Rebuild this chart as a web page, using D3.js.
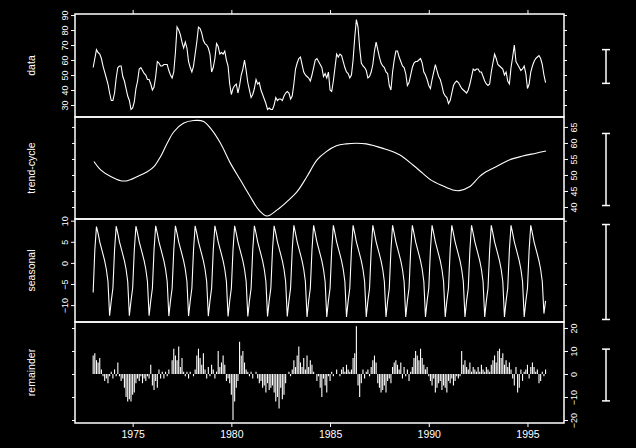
<!DOCTYPE html>
<html><head><meta charset="utf-8">
<script src="https://cdn.jsdelivr.net/npm/d3@7"></script>
<style>html,body{margin:0;padding:0;background:#000;}svg{display:block;}</style>
</head><body>
<svg id="chart" width="636" height="448"></svg>
<script>
// ---- data (monthly, Jan 1973 .. Dec 1995) ----
const startYear = 1973;
const dataValues = [
 55,61,67,65,64,61,56,52,48,44,38,33,
 33,38,48,55,56,56,49,46,41,36,33,27,
 28,32,41,46,54,55,53,51,50,47,47,44,
 40,42,49,59,58,56,56,57,57,57,53,50,
 48,52,65,82,80,77,72,68,72,68,59,55,
 52,56,64,72,82,81,78,73,71,70,68,64,
 52,55,61,71,69,64,65,64,66,60,56,44,
 37,41,43,44,38,43,50,54,60,53,45,40,
 35,37,41,47,44,45,40,37,34,31,27,28,
 27,27,30,35,33,34,34,33,36,38,39,38,
 34,36,44,54,58,61,62,57,52,50,49,48,
 46,50,55,60,61,59,57,55,49,51,48,52,
 40,39,46,55,64,62,64,63,59,55,52,51,
 48,50,60,75,87,82,68,58,56,55,53,48,
 49,52,57,66,72,67,62,58,56,55,52,51,
 43,40,52,60,66,66,62,59,56,55,51,43,
 45,50,55,58,59,59,60,61,58,52,50,47,
 43,41,47,52,57,53,49,47,43,38,36,35,
 31,33,38,43,45,46,45,43,41,40,39,38,
 40,44,49,54,53,54,54,52,52,49,46,44,
 43,44,52,58,64,61,57,56,55,54,50,52,
 46,44,55,62,70,59,57,55,53,54,56,51,
 41,44,52,56,59,61,62,63,61,57,50,45
];
const trendYears = [1973.04,1973.38,1973.89,1974.39,1974.73,1975.24,1975.74,1976.08,1976.41,1976.75,1977.09,1977.59,1978.10,1978.60,1978.94,1979.45,1979.95,1980.46,1980.96,1981.39,1981.81,1982.32,1982.82,1983.33,1983.83,1984.34,1984.81,1985.32,1985.82,1986.33,1986.83,1987.68,1988.52,1989.20,1989.70,1990.12,1990.71,1991.22,1991.55,1992.06,1992.57,1992.90,1993.41,1994.08,1994.76,1995.43,1995.94];
const trendValues = [54.2,51.6,49.5,48.2,48.2,49.5,51.0,52.6,55.7,59.9,63.5,66.2,67.0,66.7,64.6,59.9,53.7,48.4,43.2,39.1,37.2,39.1,41.7,44.8,49.5,54.7,57.3,59.1,59.7,59.9,59.7,58.3,56.3,53.1,50.5,48.4,46.6,45.3,45.1,46.3,49.5,51.0,52.6,54.7,55.9,56.8,57.5];
const seasonalValues = [
 -7,3,8.6,7,5,3.5,2,0.5,-1.5,-4.4,-12.5,-9,
 -6,3,8.7,7,5,3.5,2,0.5,-1.5,-4.4,-12.5,-9,
 -6,3,8.7,7,5,3.5,2,0.5,-1.5,-4.4,-12.5,-9,
 -6,3,8.8,7,5,3.5,2,0.5,-1.5,-4.4,-12.6,-9,
 -6,3,8.8,7,5,3.5,2,0.5,-1.5,-4.4,-12.6,-9,
 -6,3,8.8,7,5,3.5,2,0.5,-1.5,-4.4,-12.6,-9,
 -6,3,8.8,7,5,3.5,2,0.5,-1.5,-4.4,-12.7,-9,
 -6,3,8.8,7,5,3.5,2,0.5,-1.5,-4.4,-12.7,-9,
 -6,3,8.8,7,5,3.5,2,0.5,-1.5,-4.4,-12.7,-9,
 -6,3,8.8,7,5,3.5,2,0.5,-1.5,-4.4,-12.7,-9,
 -6,3,8.9,7,5,3.5,2,0.5,-1.5,-4.4,-12.8,-9,
 -6,3,8.9,7,5,3.5,2,0.5,-1.5,-4.4,-12.8,-9,
 -6,3,8.9,7,5,3.5,2,0.5,-1.5,-4.4,-12.8,-9,
 -6,3,8.9,7,5,3.5,2,0.5,-1.5,-4.4,-12.8,-9,
 -6,3,8.9,7,5,3.5,2,0.5,-1.5,-4.4,-12.8,-9,
 -6,3,8.9,7,5,3.5,2,0.5,-1.5,-4.4,-12.8,-9,
 -6,3,8.9,7,5,3.5,2,0.5,-1.5,-4.4,-12.8,-9,
 -6,3,8.9,7,5,3.5,2,0.5,-1.5,-4.4,-12.8,-9,
 -6,3,8.9,7,5,3.5,2,0.5,-1.5,-4.4,-12.8,-9,
 -6,3,8.9,7,5,3.5,2,0.5,-1.5,-4.4,-12.8,-9,
 -6,3,8.9,7,5,3.5,2,0.5,-1.5,-4.4,-12.8,-9,
 -6,3,8.9,7,5,3.5,2,0.5,-1.5,-4.4,-12.8,-9,
 -6,3,8.9,7,5,3.5,2,0.5,-1.5,-4.4,-12.0,-9
];
const remainderValues = [
 8,9,6,5,7,2,-1,-3,-2,-4,-1,1,
 -2,2,-1,5,-1,-3,-2,-6,-10,-12,-11,-12,
 -9,-8,-4,-2,-3,-1,-4,-2,-3,-1,-2,4,
 -5,-7,-3,-6,2,-2,1,-2,1,-1,2,0,
 6,11,8,6,12,3,7,1,-1,1,-2,1,
 0,-1,2,8,11,7,4,9,2,-2,3,-1,
 4,2,-2,1,10,3,5,8,4,-3,-2,-4,
 -9,-20,-12,-6,-3,14,8,10,5,2,1,-1,
 1,-2,0,1,-2,-4,-3,-6,-5,-8,-4,-7,
 -6,-5,-8,-12,-10,-15,-6,-11,-9,-4,0,1,
 -1,2,6,3,8,12,5,3,7,2,8,3,
 6,4,1,0,-3,-1,-6,-10,-2,-5,-8,-1,
 -3,1,-1,0,2,0,-1,2,3,1,4,2,
 1,2,7,9,20.8,-5,-10,-4,2,-2,1,2,
 -1,3,6,8,5,-4,-6,-8,-7,-5,-8,-3,
 -2,-4,3,5,6,4,2,5,-2,3,-1,2,
 -3,1,3,7,10,8,6,11,7,4,2,3,
 -1,-3,-5,-2,-8,-6,-4,-3,-7,-5,-6,-8,
 -3,-4,-2,-5,-3,-1,-2,-1,10,4,6,3,
 2,5,1,3,2,1,3,1,4,2,1,3,
 2,1,4,6,8,5,10,11,7,9,4,6,
 3,5,2,-2,-5,3,-8,-6,2,-3,1,2,
 4,-2,3,5,3,1,2,-4,-3,1,-1,2
];
const panelLabels = ["data","trend-cycle","seasonal","remainder"];
const xTicks = [1975,1980,1985,1990,1995];
const dataTicks = [30,40,50,60,70,80,90];
const trendTicks = [40,45,50,55,60,65];
const seasonalTicks = [-10,-5,0,5,10];
const remainderTicks = [-20,-10,0,10,20];
const rangeBarUnits = 22.5;

// ---- layout ----
const svg = d3.select("#chart");
const L = 75, R = 564;
const tops = [14,117,219,322], bots = [117,219,322,423];
const barCenters = [66.5,169.5,272,375];
const fg = "#fff";
const font = "'Liberation Sans', Arial, sans-serif";
svg.append("rect").attr("width",636).attr("height",448).attr("fill","#000");

const x = d3.scaleLinear().domain([1972.08,1996.85]).range([L,R]);
const tOf = i => startYear + i/12;
const yScales = [
  d3.scaleLinear().domain([22,90.7]).range([bots[0],tops[0]]),
  d3.scaleLinear().domain([36.25,68.1]).range([bots[1],tops[1]]),
  d3.scaleLinear().domain([-14,10.4]).range([bots[2],tops[2]]),
  d3.scaleLinear().domain([-21.3,22.6]).range([bots[3],tops[3]])
];
const tickSets = [dataTicks,trendTicks,seasonalTicks,remainderTicks];
const sides = ["left","right","left","right"];

// marks
svg.append("path").datum(dataValues)
  .attr("d", d3.line().x((d,i)=>x(tOf(i))).y(d=>yScales[0](d)))
  .attr("fill","none").attr("stroke",fg).attr("stroke-width",1.1);

svg.append("path").datum(trendYears.map((t,i)=>[t,trendValues[i]]))
  .attr("d", d3.line().x(d=>x(d[0])).y(d=>yScales[1](d[1])).curve(d3.curveCatmullRom))
  .attr("fill","none").attr("stroke",fg).attr("stroke-width",1.1);

svg.append("path").datum(seasonalValues)
  .attr("d", d3.line().x((d,i)=>x(tOf(i))).y(d=>yScales[2](d)))
  .attr("fill","none").attr("stroke",fg).attr("stroke-width",1.1);

svg.append("g").selectAll("line").data(remainderValues).join("line")
  .attr("x1",(d,i)=>x(tOf(i))).attr("x2",(d,i)=>x(tOf(i)))
  .attr("y1",yScales[3](0)).attr("y2",d=>yScales[3](d))
  .attr("stroke",fg).attr("stroke-width",1.1);

// panels, axes
for (let p=0;p<4;p++){
  const y = yScales[p];
  svg.append("rect").attr("x",L).attr("y",tops[p]).attr("width",R-L).attr("height",bots[p]-tops[p])
    .attr("fill","none").attr("stroke",fg).attr("stroke-width",1.5);
  const main = sides[p]==="left";
  const ax = (main ? d3.axisLeft(y) : d3.axisRight(y)).tickValues(tickSets[p]).tickSize(4).tickFormat(d3.format("d"));
  const g = svg.append("g").attr("transform",`translate(${main?L:R},0)`).call(ax);
  g.select(".domain").remove();
  g.selectAll("line").attr("stroke",fg).attr("stroke-width",1);
  const lx = main ? -7 : 7;
  g.selectAll("text").attr("fill",fg).attr("font-family",font).attr("font-size",9)
    .attr("x", lx).attr("y", 0).attr("dy", main ? "0" : "0.72em")
    .attr("text-anchor","middle")
    .attr("transform", `rotate(-90, ${lx}, 0)`);
  // opposite-side tick marks (no labels)
  const ax2 = (main ? d3.axisRight(y) : d3.axisLeft(y)).tickValues(tickSets[p]).tickSize(3).tickFormat("");
  const g2 = svg.append("g").attr("transform",`translate(${main?R:L},0)`).call(ax2);
  g2.select(".domain").remove();
  g2.selectAll("line").attr("stroke",fg);
  // panel label
  svg.append("text").attr("transform",`translate(31,${(tops[p]+bots[p])/2}) rotate(-90)`)
    .attr("text-anchor","middle").attr("dy","0.35em").attr("fill",fg)
    .attr("font-family",font).attr("font-size",10.5).text(panelLabels[p]);
  // range bar (same data length in every panel)
  const cy = barCenters[p], half = Math.abs(y(rangeBarUnits)-y(0))/2;
  const rb = svg.append("g").attr("stroke",fg).attr("stroke-width",1.5);
  rb.append("line").attr("x1",606).attr("x2",606).attr("y1",cy-half).attr("y2",cy+half);
  rb.append("line").attr("x1",602).attr("x2",610).attr("y1",cy-half).attr("y2",cy-half);
  rb.append("line").attr("x1",602).attr("x2",610).attr("y1",cy+half).attr("y2",cy+half);
}

// bottom x axis
const xa = svg.append("g").attr("transform",`translate(0,${bots[3]})`)
  .call(d3.axisBottom(x).tickValues(xTicks).tickSize(4).tickPadding(4).tickFormat(d3.format("d")));
xa.select(".domain").remove();
xa.selectAll("line").attr("stroke",fg);
xa.selectAll("text").attr("fill",fg).attr("font-family",font).attr("font-size",10.5);
// top ticks
const xt = svg.append("g").attr("transform",`translate(0,${tops[0]})`)
  .call(d3.axisTop(x).tickValues(xTicks).tickSize(4).tickFormat(""));
xt.select(".domain").remove();
xt.selectAll("line").attr("stroke",fg);
</script>
</body></html>
